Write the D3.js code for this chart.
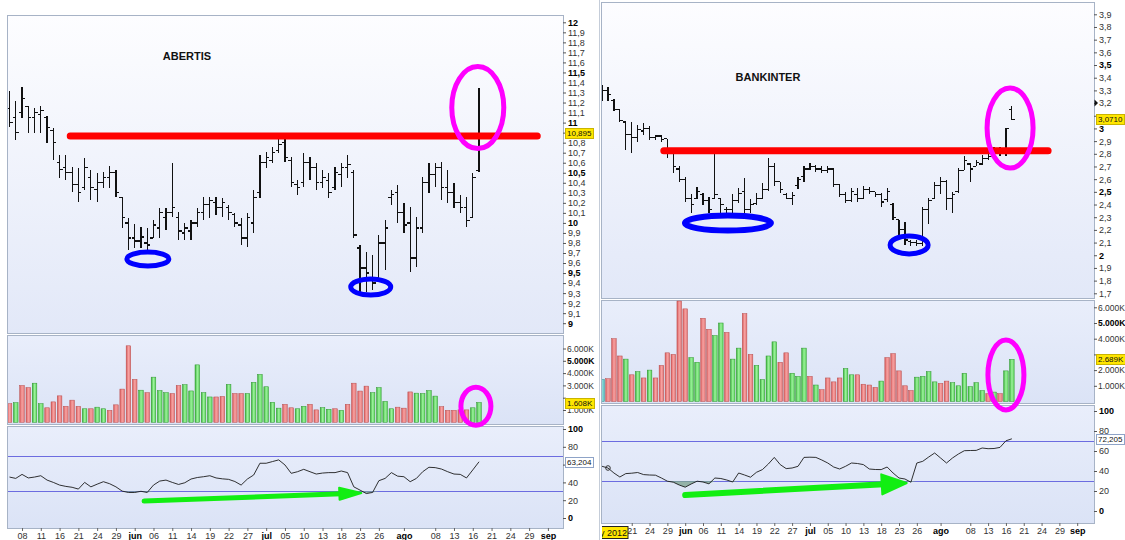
<!DOCTYPE html>
<html>
<head>
<meta charset="utf-8">
<script src="https://cdn.jsdelivr.net/npm/d3@7"></script>
<style>
body { margin: 0; background: #fff; }
text { font-family: "Liberation Sans", Arial, sans-serif; }
</style>
</head>
<body>
<svg id="chart" width="1125" height="540"></svg>
<script>
// trading day index, 0 = 4 may 2012
var dayTicks  = [2, 5, 8, 11, 14, 17, 20, 23, 26, 29, 32, 35, 38, 41, 44, 47, 50, 53, 56, 59, 63, 68, 71, 74, 77, 80, 83, 86];
var dayLabels = ["08","11","16","21","24","29","jun","06","11","14","19","22","27","jul","05","10","13","18","23","26","ago","08","13","16","21","24","29","sep"];
var monthLabels = ["jun", "jul", "ago", "sep"];

// ABERTIS, [open, high, low, close], from day 0
var abertisBars = [
	[11.14,11.32,10.96,11.00],[11.05,11.22,10.83,10.90],[11.10,11.35,11.05,11.24],[11.16,11.17,10.90,11.05],
	[11.05,11.15,10.90,11.10],[11.08,11.17,10.90,11.12],[11.05,11.07,10.80,10.95],[10.92,10.95,10.63,10.80],
	[10.60,10.68,10.45,10.53],[10.55,10.68,10.43,10.50],[10.50,10.56,10.31,10.38],[10.38,10.55,10.21,10.30],
	[10.35,10.65,10.33,10.55],[10.45,10.53,10.23,10.35],[10.33,10.50,10.21,10.40],[10.40,10.51,10.35,10.45],
	[10.45,10.57,10.35,10.50],[10.50,10.53,10.26,10.30],[10.25,10.26,9.95,10.05],[10.00,10.05,9.73,9.85],
	[9.85,9.99,9.75,9.82],[9.82,9.96,9.75,9.86],[9.80,9.95,9.73,9.78],[9.85,10.03,9.85,9.98],
	[9.95,10.15,9.85,10.10],[10.05,10.15,9.93,10.10],[10.10,10.60,10.06,10.15],[10.05,10.11,9.83,9.92],
	[9.90,10.00,9.83,9.95],[9.92,10.03,9.83,10.00],[10.00,10.15,9.96,10.10],[10.10,10.26,10.03,10.18],
	[10.18,10.26,10.05,10.22],[10.20,10.26,10.08,10.15],[10.15,10.25,10.06,10.20],[10.15,10.18,10.03,10.10],
	[10.08,10.10,9.96,10.00],[9.98,10.05,9.78,9.85],[9.85,10.10,9.76,10.05],[10.00,10.33,9.90,10.25],
	[10.30,10.68,10.25,10.60],[10.60,10.71,10.55,10.65],[10.62,10.76,10.60,10.70],[10.72,10.88,10.70,10.78],
	[10.80,10.85,10.61,10.65],[10.62,10.66,10.36,10.40],[10.38,10.43,10.28,10.35],[10.40,10.70,10.36,10.60],
	[10.60,10.66,10.43,10.55],[10.55,10.60,10.33,10.40],[10.40,10.53,10.35,10.45],[10.42,10.50,10.25,10.30],
	[10.35,10.56,10.33,10.50],[10.48,10.60,10.36,10.55],[10.55,10.68,10.45,10.58],[10.50,10.53,9.85,9.88],
	[9.75,9.78,9.31,9.55],[9.55,9.71,9.31,9.50],[9.45,9.68,9.33,9.40],[9.45,9.88,9.45,9.80],
	[9.80,10.03,9.53,9.95],[10.25,10.33,10.18,10.28],[10.30,10.38,10.00,10.10],[10.10,10.20,9.90,9.98],
	[10.00,10.16,9.51,9.65],[9.65,10.06,9.56,9.95],[9.95,10.46,9.90,10.40],[10.40,10.60,10.30,10.48],
	[10.48,10.60,10.36,10.55],[10.55,10.61,10.23,10.35],[10.35,10.53,10.20,10.30],[10.30,10.40,10.15,10.20],
	[10.20,10.28,10.10,10.15],[10.15,10.26,9.96,10.02],[10.05,10.50,10.05,10.45],[10.52,11.34,10.51,10.895]
];
// volume in thousands
var abertisVolume = [
	1.51,1.59,2.99,2.82,3.18,1.51,1.18,1.66,2.15,1.30,
	1.80,1.30,1.10,1.10,1.23,1.10,0.97,1.42,2.70,6.22,
	3.49,2.61,2.41,3.67,2.58,2.41,2.34,2.99,3.06,2.55,
	4.67,2.41,2.06,2.06,2.10,3.08,2.34,2.34,2.34,3.25,
	3.89,2.89,1.63,1.15,1.46,1.18,1.10,1.30,1.46,1.01,
	1.19,1.06,1.10,0.97,1.46,3.18,2.54,2.94,2.41,2.82,
	1.70,1.10,1.23,1.15,2.47,2.37,2.34,2.58,2.13,1.27,
	0.97,0.97,1.01,1.01,1.18,1.61
];
var abertisVolumeDir = ("rgrrggrrrr" + "rrgrggrrrr" + "rgrgggrrgg" + "gggrrgrrgg" +
	"ggggrrggrr" + "ggrgrrrrgg" + "ggrrrggggr" + "rrrrgg").split("");
var abertisRsi = [
	46,44.5,49,45,46,47.5,42.6,40,37,35.5,
	34.5,32.5,40,35,38,40.8,38.5,35,30.2,28.7,
	28.7,30,28.7,37,41.5,42.6,40,37.7,39.6,43.8,
	45.5,46.4,47.5,45,44,43.4,41,37,43.8,48.3,
	61.5,61.5,63.4,65.3,59.6,50.2,52,54.7,52,49.4,
	50.5,51,51,52.8,51,35,31.3,27.5,28.7,41.9,
	44.5,51,47,46.4,40.8,44.5,52,57,56.6,55,
	52,49.4,49,45,54,63.2
];
var abertisLast = [10.895, 1.608, 63.204];

// BANKINTER, from day 6
var bankinterBars = [
	[3.25,3.34,3.22,3.30],[3.30,3.33,3.22,3.27],[3.22,3.23,3.14,3.15],[3.15,3.15,3.05,3.06],
	[3.05,3.05,2.83,2.95],[2.95,3.05,2.81,2.93],[2.93,3.03,2.89,2.99],[2.98,3.04,2.95,3.00],
	[3.00,3.02,2.91,2.93],[2.93,2.95,2.91,2.94],[2.94,2.95,2.89,2.91],[2.92,2.92,2.77,2.80],
	[2.80,2.81,2.65,2.70],[2.68,2.70,2.58,2.60],[2.60,2.62,2.42,2.45],[2.45,2.48,2.33,2.40],
	[2.45,2.54,2.44,2.50],[2.48,2.49,2.40,2.43],[2.43,2.46,2.33,2.36],[2.45,2.81,2.45,2.48],
	[2.45,2.45,2.33,2.40],[2.36,2.38,2.33,2.36],[2.36,2.48,2.33,2.43],[2.43,2.53,2.41,2.49],
	[2.50,2.61,2.33,2.36],[2.36,2.44,2.33,2.40],[2.41,2.49,2.40,2.45],[2.45,2.57,2.44,2.52],
	[2.52,2.77,2.51,2.70],[2.70,2.73,2.55,2.58],[2.58,2.58,2.49,2.52],[2.48,2.49,2.44,2.45],
	[2.45,2.50,2.40,2.47],[2.55,2.62,2.52,2.60],[2.62,2.70,2.58,2.68],[2.68,2.73,2.67,2.70],
	[2.70,2.71,2.66,2.68],[2.68,2.70,2.65,2.67],[2.67,2.70,2.65,2.68],[2.68,2.69,2.54,2.56],
	[2.56,2.56,2.46,2.48],[2.48,2.50,2.41,2.43],[2.43,2.53,2.42,2.50],[2.48,2.53,2.42,2.45],
	[2.45,2.55,2.44,2.52],[2.52,2.54,2.48,2.50],[2.50,2.50,2.46,2.48],[2.48,2.49,2.38,2.42],
	[2.44,2.53,2.42,2.50],[2.40,2.41,2.28,2.30],[2.28,2.28,2.14,2.20],[2.20,2.26,2.08,2.12],
	[2.11,2.12,2.07,2.10],[2.10,2.12,2.07,2.09],[2.09,2.38,2.07,2.36],[2.36,2.45,2.25,2.43],
	[2.45,2.58,2.44,2.55],[2.55,2.62,2.48,2.58],[2.58,2.59,2.36,2.45],[2.45,2.50,2.33,2.48],
	[2.50,2.69,2.49,2.67],[2.67,2.78,2.67,2.75],[2.72,2.73,2.58,2.68],[2.70,2.75,2.70,2.73],
	[2.72,2.79,2.71,2.76],[2.76,2.81,2.75,2.78],[2.78,2.85,2.78,2.82],[2.81,2.85,2.78,2.83],
	[2.80,3.00,2.78,3.00],[3.15,3.18,3.07,3.071]
];
var bankinterVolume = [
	1.40,1.45,4.00,2.90,2.70,1.70,1.90,1.50,2.00,1.50,
	2.30,3.10,3.00,6.40,5.90,2.80,2.50,5.30,4.60,4.20,
	5.00,4.40,2.70,3.40,5.60,3.00,2.30,1.40,2.90,3.80,
	2.50,3.10,1.80,1.60,3.40,1.60,1.05,0.75,1.50,1.25,
	1.50,2.10,1.70,1.70,1.10,1.05,0.90,1.30,2.80,3.05,
	1.95,1.00,0.70,1.55,1.60,1.90,1.25,1.15,1.30,1.20,
	1.00,1.80,0.95,1.20,0.70,0.50,0.60,0.50,1.95,2.69
];
var bankinterVolumeDir = ("trrrgrgrgr" + "rrrrrggrrg" + "grggrrgggg" + "rrgggrgrrr" +
	"rggrrrrgrr" + "rrrggggrrg" + "gggggrgrgg").split("");
var bankinterRsi = [
	44.7,43,38,34,37.4,37.8,38.5,36.4,36,35.8,
	33,29.8,28.8,26,23.8,27,29.8,29,27.2,33,
	32.5,31,29,38,36,33.8,38.7,41.4,47,53.6,
	46.4,42.4,43,44.7,53.6,53.8,53.6,51,48,44,
	42,44.7,48,47.5,46.4,42,41.5,41.4,44,38,
	33,32,28.8,48,49.7,54,58,53,48,53,
	57,60.3,60.5,60.6,63,62.3,62.5,63.6,70.2,72.2
];
var bankinterLast = [3.071, 2.689, 72.205];


var svg = d3.select("#chart");
var defs = svg.append("defs");

function gradient(id, colors, vertical){
	var gr = defs.append("linearGradient").attr("id", id)
		.attr("x1", 0).attr("y1", 0).attr("x2", vertical ? 0 : 1).attr("y2", vertical ? 1 : 0);
	colors.forEach(function(c, i){
		gr.append("stop").attr("offset", i / (colors.length - 1)).attr("stop-color", c);
	});
}
gradient("bgPrice", ["#fdfdff", "#e2e8f8"], true);
gradient("bgLower", ["#e9eefb", "#dbe3f6"], true);
gradient("barr", ["#d65a5a", "#f7a2a2", "#e37878"], false);
gradient("barg", ["#38b238", "#9cf29c", "#5cd25c"], false);
gradient("bart", ["#349e9e", "#95dcdc", "#5bbcbc"], false);
var barEdge = {r: "#b84c4c", g: "#2f962f", t: "#2e8c8c"};

var comma = function(d){ return String(d).replace(".", ","); };


var stock_chart = function(){

	var id;
	var title;
	var first = 0;
	var dayFrom = 0;
	var bars, volume, volumeDir, rsi, last;
	var priceDomain, priceTicks, priceDigits = 3;
	var box;
	var marks;

	function chart(svg){

		var x = d3.scaleLinear().domain([0, 86]).range(box.x);
		var yPrice = d3.scaleLinear().domain(priceDomain).range(box.priceRange);
		var yVol = d3.scaleLinear().domain([0, 6]).range(box.volRange);
		var yRsi = d3.scaleLinear().domain([0, 100]).range(box.rsiRange);
		var xi = function(d, i){ return x(first + i); };

		var g = svg.append("g").attr("class", id);

		g.selectAll("rect.panel")
			.data([[box.price, "url(#bgPrice)"], [box.vol, "url(#bgLower)"], [box.rsi, "url(#bgLower)"]])
			.enter().append("rect")
			.attr("class", "panel")
			.attr("x", box.left + 0.5)
			.attr("y", function(d){ return d[0][0] + 0.5; })
			.attr("width", box.right - box.left)
			.attr("height", function(d){ return d[0][1] - d[0][0]; })
			.attr("fill", function(d){ return d[1]; })
			.attr("stroke", "#a7b3c6");

		defs.append("clipPath").attr("id", id + "-plot").append("rect")
			.attr("x", box.left + 1).attr("y", 0)
			.attr("width", box.right - box.left - 1).attr("height", 540);
		defs.append("clipPath").attr("id", id + "-axis").append("rect")
			.attr("x", box.right).attr("y", 0)
			.attr("width", box.axisEnd - box.right).attr("height", 540);

		var plot = g.append("g").attr("clip-path", "url(#" + id + "-plot)");

		if(title){
			plot.append("text")
				.attr("x", title[1]).attr("y", title[2])
				.attr("text-anchor", "middle")
				.attr("font-size", 11).attr("font-weight", "bold").attr("fill", "#111")
				.text(title[0]);
		}

		// price bars
		var ohlc = plot.append("g")
			.attr("stroke", "#111").attr("stroke-width", 1.2)
			.attr("shape-rendering", "crispEdges");
		var bar = ohlc.selectAll("g").data(bars).enter().append("g")
			.attr("transform", function(d, i){ return "translate(" + xi(d, i) + ",0)"; });
		bar.append("line")
			.attr("y1", function(d){ return yPrice(d[1]); })
			.attr("y2", function(d){ return yPrice(d[2]); });
		bar.append("line").attr("x1", -3).attr("x2", 0)
			.attr("y1", function(d){ return yPrice(d[0]); })
			.attr("y2", function(d){ return yPrice(d[0]); });
		bar.append("line").attr("x1", 0).attr("x2", 3)
			.attr("y1", function(d){ return yPrice(d[3]); })
			.attr("y2", function(d){ return yPrice(d[3]); });

		// volume
		plot.append("g").selectAll("rect").data(volume).enter().append("rect")
			.attr("x", function(d, i){ return xi(d, i) - 2.3; })
			.attr("width", 4.6)
			.attr("y", function(d){ return yVol(d); })
			.attr("height", function(d){ return yVol(0) - yVol(d); })
			.attr("fill", function(d, i){ return "url(#bar" + volumeDir[i] + ")"; })
			.attr("stroke", function(d, i){ return barEdge[volumeDir[i]]; })
			.attr("stroke-width", 0.5);

		// oscillator
		plot.selectAll("line.level").data([70, 30]).enter().append("line")
			.attr("class", "level")
			.attr("x1", box.left).attr("x2", box.right)
			.attr("y1", function(d){ return Math.round(yRsi(d)) + 0.5; })
			.attr("y2", function(d){ return Math.round(yRsi(d)) + 0.5; })
			.attr("stroke", "#6c6ce0").attr("stroke-width", 1);

		var area = d3.area().x(xi)
			.y0(yRsi(30))
			.y1(function(d){ return yRsi(Math.min(d, 30)); });
		plot.append("path").datum(rsi).attr("d", area)
			.attr("fill", "#7fa592").attr("opacity", 0.8);

		var line = d3.line().x(xi).y(function(d){ return yRsi(d); });
		plot.append("path").datum(rsi).attr("d", line)
			.attr("fill", "none").attr("stroke", "#1b1b1b").attr("stroke-width", 0.9);

		if(marks.rsiStart){
			plot.append("circle").attr("cx", x(first + 1)).attr("cy", yRsi(rsi[1]))
				.attr("r", 2.3).attr("fill", "none").attr("stroke", "#333");
		}

		// annotations
		var lv = marks.level;
		plot.append("line")
			.attr("x1", x(lv[0])).attr("x2", x(lv[1]))
			.attr("y1", yPrice(lv[2])).attr("y2", yPrice(lv[2]))
			.attr("stroke", "#ff0000").attr("stroke-width", 7).attr("stroke-linecap", "round");

		plot.selectAll("ellipse.low").data(marks.lows).enter().append("ellipse")
			.attr("cx", function(d){ return x(d[0]); })
			.attr("cy", function(d){ return yPrice(d[1]); })
			.attr("rx", function(d){ return d[2]; })
			.attr("ry", function(d){ return d[3]; })
			.attr("fill", "none").attr("stroke", "#0000ff")
			.attr("stroke-width", function(d){ return d[4] || 5; });

		var mp = marks.breakout, mv = marks.breakoutVol;
		plot.append("ellipse")
			.attr("cx", x(mp[0])).attr("cy", yPrice(mp[1])).attr("rx", mp[2]).attr("ry", mp[3])
			.attr("fill", "none").attr("stroke", "#ff00ff").attr("stroke-width", 5);
		plot.append("ellipse")
			.attr("cx", x(mv[0])).attr("cy", yVol(mv[1])).attr("rx", mv[2]).attr("ry", mv[3])
			.attr("fill", "none").attr("stroke", "#ff00ff").attr("stroke-width", 5);

		var ar = marks.arrow;
		var p0 = [x(ar[0][0]), yRsi(ar[0][1])], p1 = [x(ar[1][0]), yRsi(ar[1][1])];
		var dx = p1[0] - p0[0], dy = p1[1] - p0[1], len = Math.sqrt(dx * dx + dy * dy);
		var ux = dx / len, uy = dy / len;
		var bx = p1[0] - ux * ar[3], by = p1[1] - uy * ar[3];
		plot.append("line")
			.attr("x1", p0[0]).attr("y1", p0[1]).attr("x2", bx + ux * 2).attr("y2", by + uy * 2)
			.attr("stroke", "#12ee12").attr("stroke-width", ar[2]).attr("stroke-linecap", "round");
		plot.append("path")
			.attr("d", "M" + p1[0] + "," + p1[1] +
				"L" + (bx - uy * ar[4]) + "," + (by + ux * ar[4]) +
				"L" + (bx + uy * ar[4]) + "," + (by - ux * ar[4]) + "Z")
			.attr("fill", "#12ee12").attr("stroke", "#12ee12").attr("stroke-width", 2)
			.attr("stroke-linejoin", "round");

		// axes
		var axes = g.append("g").attr("clip-path", "url(#" + id + "-axis)");

		// labels that sit under a value tag are not shown, as in the terminal
		function styleAxis(sel, scale, tagValue, bold, size){
			sel.attr("font-size", size || 9).attr("font-family", null).attr("color", "#555");
			sel.select(".domain").remove();
			sel.selectAll("text")
				.attr("display", function(d){ return Math.abs(scale(d) - scale(tagValue)) < 6.5 ? "none" : null; })
				.attr("fill", function(d){ return bold(d) ? "#000" : "#333"; })
				.attr("font-weight", function(d){ return bold(d) ? "bold" : null; });
		}

		axes.append("g")
			.attr("transform", "translate(" + box.right + ",0)")
			.call(d3.axisRight(yPrice).tickValues(priceTicks).tickSize(3).tickPadding(2).tickFormat(comma))
			.call(styleAxis, yPrice, last[0], function(d){ return Math.abs(d * 2 - Math.round(d * 2)) < 1e-6; });

		axes.append("g")
			.attr("transform", "translate(" + box.right + ",0)")
			.call(d3.axisRight(yVol).tickValues([1, 2, 3, 4, 5, 6]).tickSize(3).tickPadding(1)
				.tickFormat(function(d){ return d + ".000K"; }))
			.call(styleAxis, yVol, last[1], function(d){ return d === 5; }, 8.5);

		axes.append("g")
			.attr("transform", "translate(" + box.right + ",0)")
			.call(d3.axisRight(yRsi).tickValues([0, 20, 40, 60, 80, 100]).tickSize(3).tickPadding(2))
			.call(styleAxis, yRsi, last[2], function(d){ return d === 0 || d === 100; });

		if(marks.pointer){
			var py = yPrice(marks.pointer);
			axes.append("path")
				.attr("d", "M" + (box.right + 0.5) + "," + (py - 3.5) + "L" + (box.right + 4) + "," + py +
					"L" + (box.right + 0.5) + "," + (py + 3.5) + "Z")
				.attr("fill", "#111");
		}

		function tag(y, text, fill, stroke){
			var tg = axes.append("g");
			var r = tg.append("rect");
			var t = tg.append("text")
				.attr("x", box.right + 4).attr("y", Math.round(y) + 3)
				.attr("font-size", 8).attr("fill", "#111")
				.text(text);
			var w = t.node().getComputedTextLength();
			r.attr("x", box.right + 2.5).attr("y", Math.round(y) - 4.5)
				.attr("width", Math.ceil(w) + 3).attr("height", 10)
				.attr("fill", fill).attr("stroke", stroke).attr("stroke-width", 1);
		}
		tag(yPrice(last[0]), comma(last[0].toFixed(priceDigits)), "#ffe600", "#c9b400");
		tag(yVol(last[1]), last[1].toFixed(3) + "K", "#ffe600", "#c9b400");
		tag(yRsi(last[2]), comma(last[2].toFixed(3)), "#ffffff", "#8ea3c7");

		// dates
		var dates = g.append("g")
			.attr("transform", "translate(0," + box.rsi[1] + ")")
			.call(d3.axisBottom(x)
				.tickValues(dayTicks.filter(function(d){ return d >= dayFrom; }))
				.tickSize(3).tickPadding(2)
				.tickFormat(function(d){ return dayLabels[dayTicks.indexOf(d)]; }));
		dates.attr("font-size", 9).attr("font-family", null).attr("color", "#666");
		dates.select(".domain").remove();
		dates.selectAll("text")
			.attr("fill", function(d){ return monthLabels.indexOf(dayLabels[dayTicks.indexOf(d)]) >= 0 ? "#000" : "#333"; })
			.attr("font-weight", function(d){ return monthLabels.indexOf(dayLabels[dayTicks.indexOf(d)]) >= 0 ? "bold" : null; });

		if(marks.startLabel){
			var sl = g.append("g").attr("clip-path", "url(#" + id + "-plot)");
			sl.append("rect")
				.attr("x", box.left).attr("y", box.rsi[1] + 3.5).attr("width", 27).attr("height", 12)
				.attr("fill", "#ffe600").attr("stroke", "#222").attr("stroke-width", 1);
			sl.append("text")
				.attr("x", box.left + 26).attr("y", box.rsi[1] + 13)
				.attr("text-anchor", "end").attr("font-size", 9).attr("fill", "#111")
				.text(marks.startLabel);
		}
	}

	chart.id = function(value){
		if(!arguments.length) return id;
		id = value;
		return this;
	};

	chart.title = function(value){
		if(!arguments.length) return title;
		title = value;
		return this;
	};

	chart.first = function(value){
		if(!arguments.length) return first;
		first = value;
		return this;
	};

	chart.dayFrom = function(value){
		if(!arguments.length) return dayFrom;
		dayFrom = value;
		return this;
	};

	chart.data = function(b, v, vd, r, l){
		bars = b; volume = v; volumeDir = vd; rsi = r; last = l;
		return this;
	};

	chart.price = function(domain, ticks, digits){
		priceDomain = domain; priceTicks = ticks; priceDigits = digits;
		return this;
	};

	chart.box = function(value){
		if(!arguments.length) return box;
		box = value;
		return this;
	};

	chart.marks = function(value){
		if(!arguments.length) return marks;
		marks = value;
		return this;
	};

	return chart;
};


var abertis = stock_chart()
	.id("abertis")
	.title(["ABERTIS", 187, 60])
	.first(0)
	.dayFrom(2)
	.data(abertisBars, abertisVolume, abertisVolumeDir, abertisRsi, abertisLast)
	.price([9, 12], d3.range(90, 121).map(function(d){ return d / 10; }), 3)
	.box({
		left: 7, right: 563, axisEnd: 598,
		x: [9.5, 547.9],
		price: [15, 333], priceRange: [323.2, 22.3],
		vol: [335, 424], volRange: [422.3, 348.5],
		rsi: [426, 528], rsiRange: [518, 429]
	})
	.marks({
		level: [9.7, 84.3, 10.866],
		lows: [[22.1, 9.64, 21, 7], [57.7, 9.36, 20, 8]],
		breakout: [74.8, 11.15, 26, 41],
		breakoutVol: [74.5, 1.3, 15, 19],
		arrow: [[21.5, 19], [56.2, 28.1], 5, 22, 6]
	});

var bankinter = stock_chart()
	.id("bankinter")
	.title(["BANKINTER", 768, 81])
	.first(6)
	.dayFrom(11)
	.data(bankinterBars, bankinterVolume, bankinterVolumeDir, bankinterRsi, bankinterLast)
	.price([1.7, 3.9], d3.range(17, 40).map(function(d){ return d / 10; }), 4)
	.box({
		left: 601, right: 1094, axisEnd: 1125,
		x: [566.4, 1077.2],
		price: [2, 298], priceRange: [293.3, 14.3],
		vol: [300, 403], volRange: [401.5, 307.3],
		rsi: [405, 523], rsiRange: [511, 411]
	})
	.marks({
		level: [16.4, 81.1, 2.824],
		lows: [[27.2, 2.254, 43, 7.5, 6], [57.7, 2.081, 19, 9]],
		breakout: [74.7, 3.003, 23, 40],
		breakoutVol: [74, 1.69, 18, 35],
		arrow: [[20, 16], [57.3, 28], 6, 25, 10],
		pointer: 3.2,
		rsiStart: true,
		startLabel: "May 2012"
	});

svg.append("line")
	.attr("x1", 599.5).attr("x2", 599.5).attr("y1", 0).attr("y2", 540)
	.attr("stroke", "#c5cdd9");

svg.call(abertis);
svg.call(bankinter);
</script>
</body>
</html>
